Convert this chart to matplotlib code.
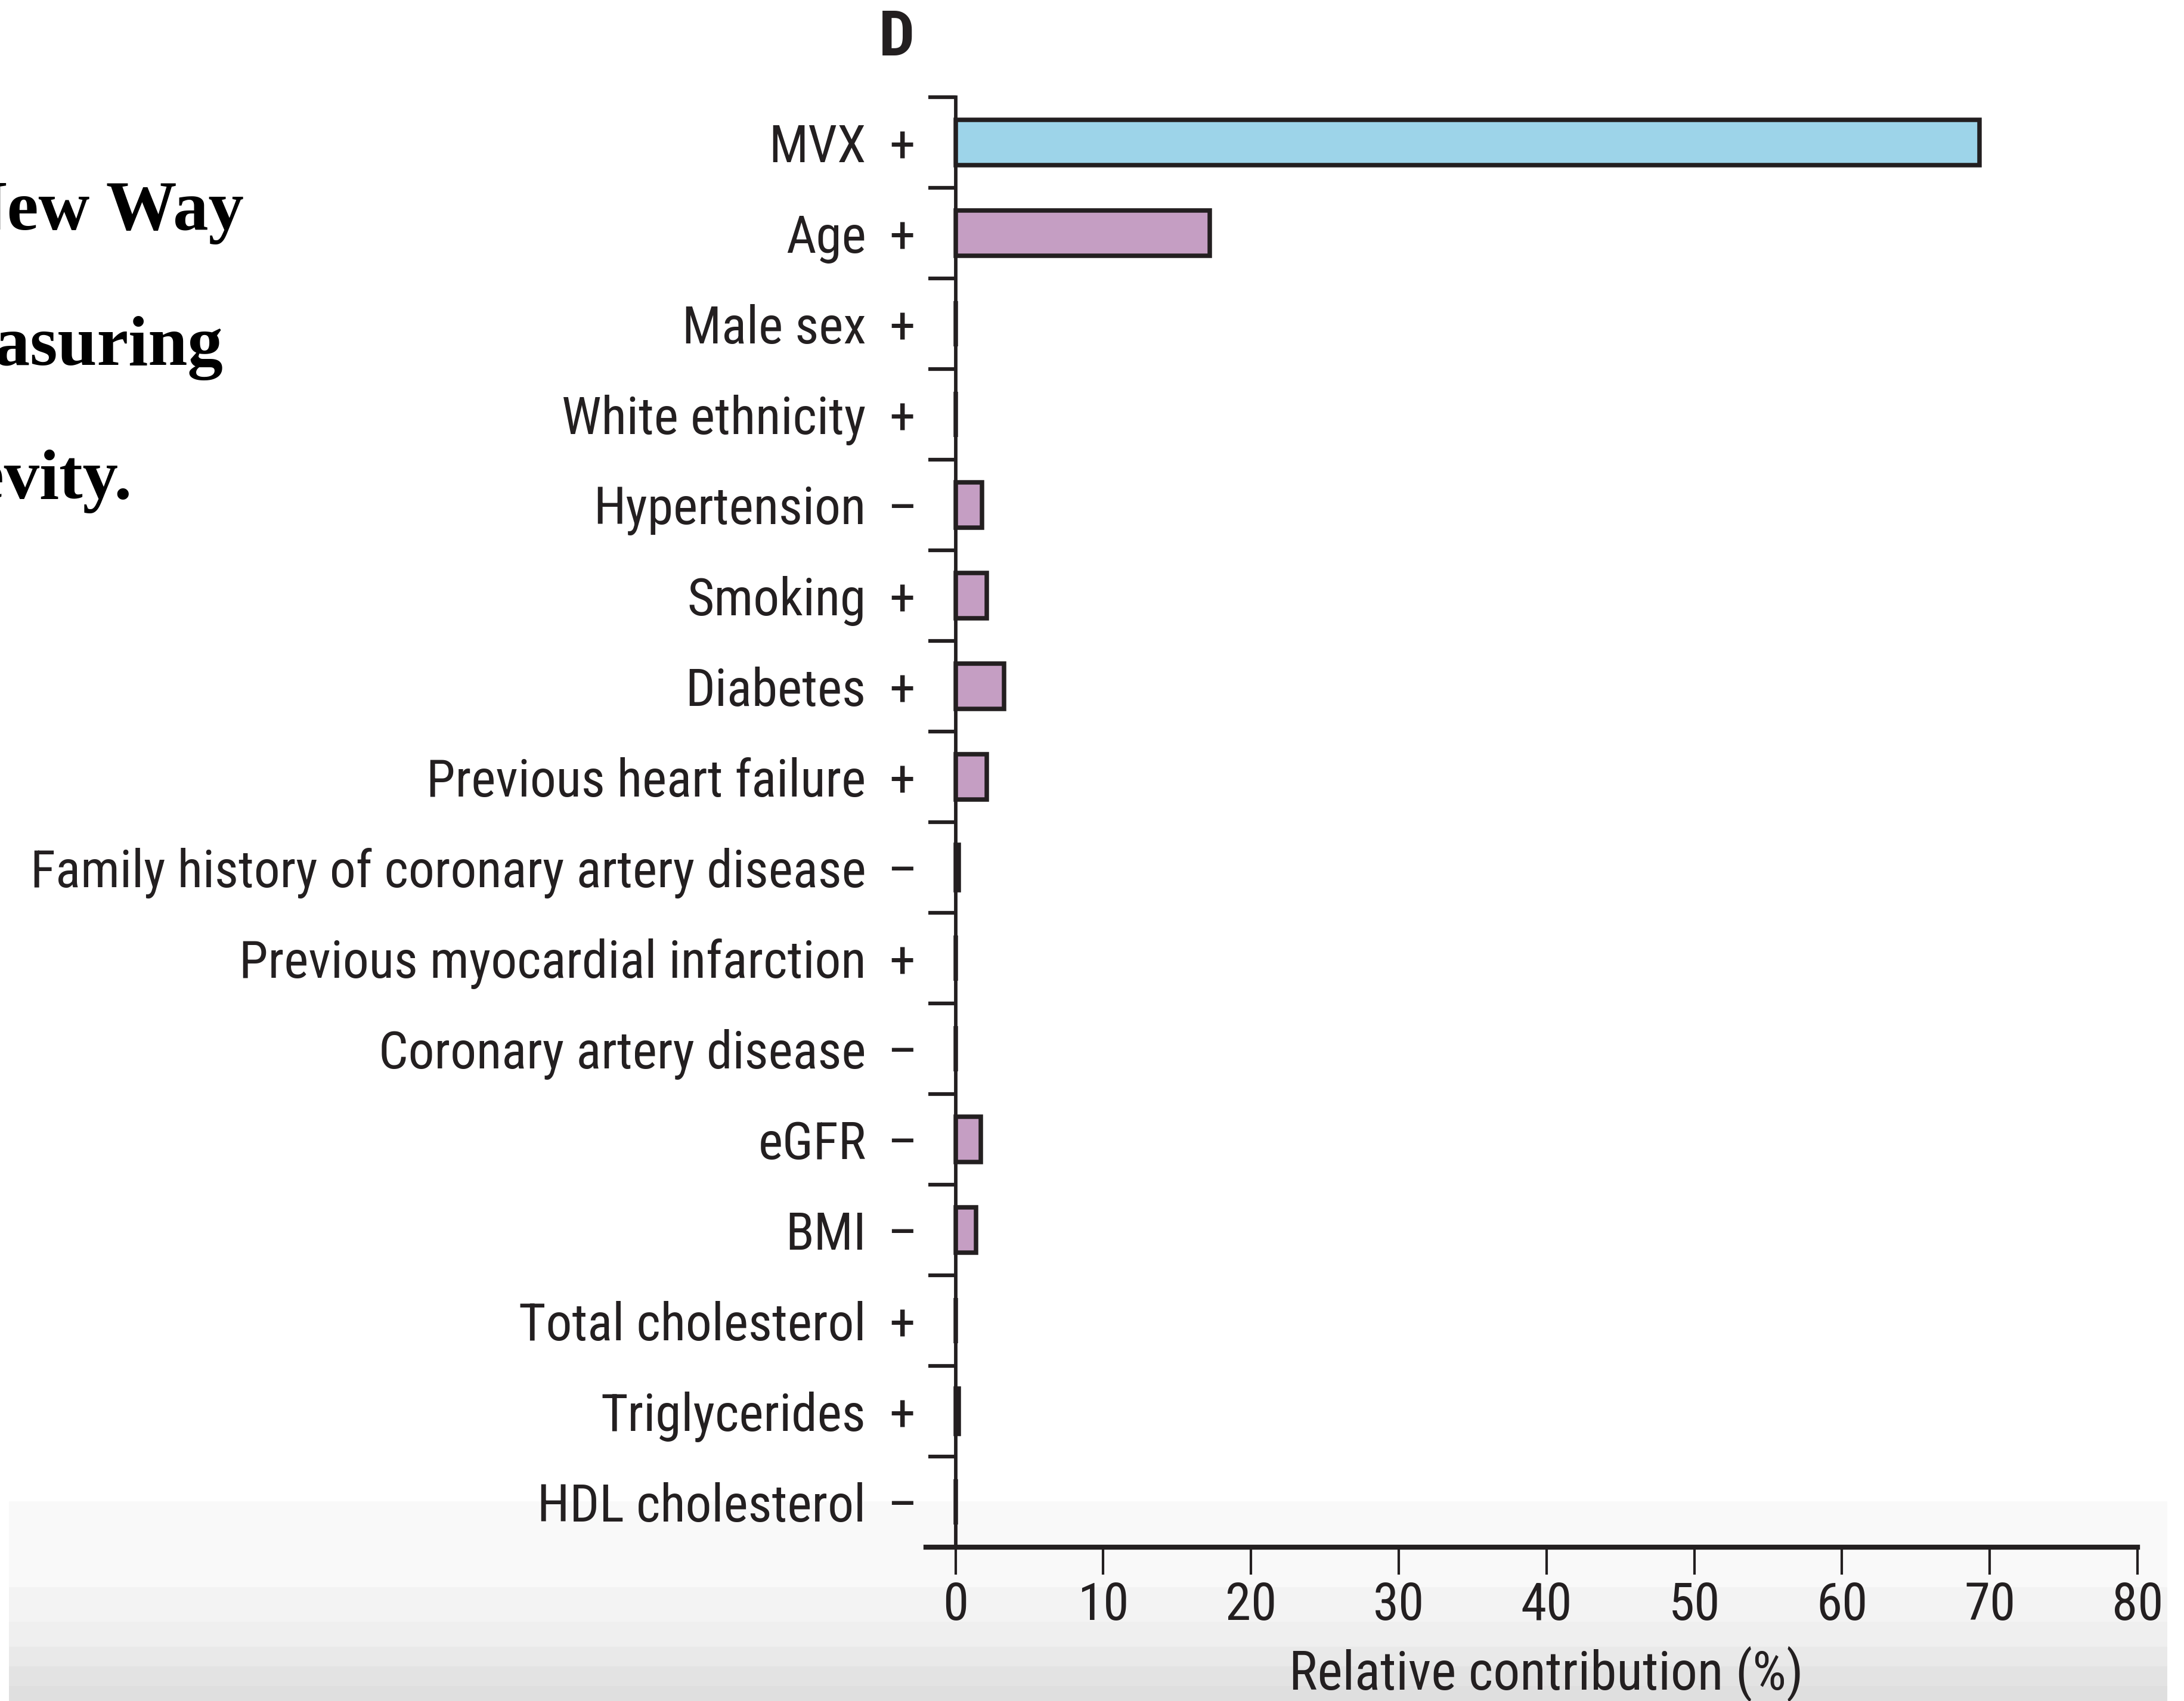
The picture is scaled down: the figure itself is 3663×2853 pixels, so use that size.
import numpy as np
import matplotlib
matplotlib.use("Agg")
import matplotlib.pyplot as plt
from matplotlib.patches import Rectangle

factors = ["MVX", "Age", "Male sex", "White ethnicity", "Hypertension", "Smoking",
           "Diabetes", "Previous heart failure", "Family history of coronary artery disease",
           "Previous myocardial infarction", "Coronary artery disease", "eGFR", "BMI",
           "Total cholesterol", "Triglycerides", "HDL cholesterol"]
signs = ["+", "+", "+", "+", "\u2013", "+", "+", "+", "\u2013", "+", "\u2013", "\u2013", "\u2013", "+", "+", "\u2013"]
contribution = [69.3, 17.2, 0.0, 0.0, 1.8, 2.1, 3.3, 2.1, 0.2, 0.0, 0.0, 1.7, 1.4, 0.0, 0.2, 0.0]
x_ticks = [0, 10, 20, 30, 40, 50, 60, 70, 80]
title_lines = ["New Way", "Measuring", "Longevity."]

plt.rcParams["font.family"] = ["Roboto Condensed", "DejaVu Sans"]
fs = 21

W, H, dpi = 3663, 2853, 300
ink = "#231f20"
fig = plt.figure(figsize=(W / dpi, H / dpi), dpi=dpi, facecolor="white")

# grey player bar fading in at the bottom of the screenshot
levels = np.repeat([249, 244, 239, 233, 228, 223], [144, 58, 42, 33, 33, 25]) / 255.0
bg = fig.add_axes([15 / W, 0, (3635 - 15) / W, (H - 2518) / H], zorder=0)
bg.imshow(levels[:, None], cmap="gray", vmin=0, vmax=1, aspect="auto", interpolation="nearest")
bg.axis("off")

ax = fig.add_axes([1553 / W, 1 - 2595 / H, (3585 - 1553) / W, (2595 - 163) / H], zorder=1)
ax.patch.set_visible(False)

y = np.arange(len(factors))
colors = ["#9dd4e9"] + ["#c59ec3"] * (len(factors) - 1)
ax.barh(y, contribution, height=0.5, color=colors, edgecolor=ink, linewidth=1.8, zorder=2)

ax.set_xlim(-2.0, 80)
ax.set_ylim(len(factors) - 0.5, -0.5)
ax.spines["left"].set_position(("data", 0))
ax.spines["left"].set_linewidth(1.4)
ax.spines["bottom"].set_linewidth(2.0)
ax.spines["top"].set_visible(False)
ax.spines["right"].set_visible(False)
for sp in ax.spines.values():
    sp.set_color(ink)

ax.set_yticks(y)
ax.set_yticklabels(factors, fontsize=fs, color=ink)
ax.set_yticks(np.arange(-0.5, len(factors)), minor=True)
ax.tick_params(axis="y", which="major", length=0, pad=36)
ax.tick_params(axis="y", which="minor", length=11, width=1.5, color=ink)

ax.set_xticks(x_ticks)
ax.set_xticklabels([str(t) for t in x_ticks], fontsize=fs, color=ink)
ax.tick_params(axis="x", length=11, width=1.0, pad=2.5, color=ink)

for yi, s in zip(y, signs):
    ax.annotate(s, xy=(0, yi), xycoords="data", xytext=(-21.4, 0), textcoords="offset points",
                ha="center", va="center_baseline", fontsize=fs, color=ink)

ax.set_xlabel("Relative contribution (%)", fontsize=21.5, color=ink)
ax.xaxis.set_label_coords(0.512, -0.068)

fig.text(1474 / W, 1 - 93 / H, "D", fontsize=25.5, fontweight="bold", color=ink,
         ha="left", va="baseline")

# clipped slide title on the left
for line, xr, yb in zip(title_lines, [409, 374, 222], [385, 612, 836]):
    fig.text(xr / W, 1 - yb / H, line, fontsize=28.5, fontweight="bold", family="Liberation Serif",
             ha="right", va="baseline", color="black")

# white strip down the right edge of the screenshot
fig.add_artist(Rectangle((3635 / W, 0), (W - 3635) / W, 1, transform=fig.transFigure,
                         facecolor="white", edgecolor="none", zorder=10))

fig.savefig("out.png", dpi=dpi)
